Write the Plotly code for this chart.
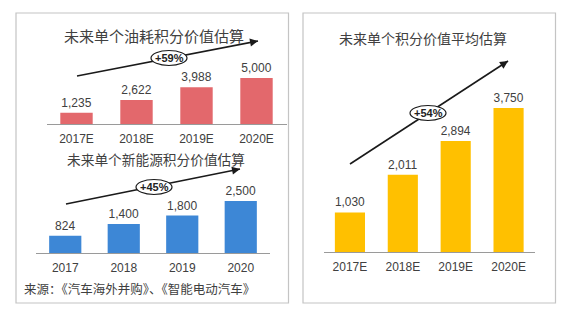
import plotly.graph_objects as go

W, H = 566, 316

# ---- data ----
fuel_years = ["2017E", "2018E", "2019E", "2020E"]
fuel_values = [1235, 2622, 3988, 5000]

nev_years = ["2017", "2018", "2019", "2020"]
nev_values = [824, 1400, 1800, 2500]

avg_years = ["2017E", "2018E", "2019E", "2020E"]
avg_values = [1030, 2011, 2894, 3750]

fuel_title = "未来单个油耗积分价值估算"
nev_title = "未来单个新能源积分价值估算"
avg_title = "未来单个积分价值平均估算"
source_text = "来源：《汽车海外并购》、《智能电动汽车》"
growth_labels = ["+59%", "+45%", "+54%"]

RED = "#E3686C"
BLUE = "#3D87D6"
GOLD = "#FFC000"
TXT = "#404040"
NUM_FONT = "Liberation Sans"
CJK_FONT = "Noto Sans CJK SC"


def fx(px):
    return px / W


def fy(py):
    return 1 - py / H


fig = go.Figure()


def add_bars(xs, ys, color, axis_idx, width):
    suffix = "" if axis_idx == 1 else str(axis_idx)
    fig.add_trace(go.Bar(
        x=xs, y=ys, marker=dict(color=color, line=dict(width=0)),
        width=width,
        text=[f"{v:,}" for v in ys], textposition="outside",
        textfont=dict(family=NUM_FONT, size=12, color=TXT),
        cliponaxis=False, showlegend=False, hoverinfo="skip",
        xaxis="x" + suffix, yaxis="y" + suffix,
    ))


add_bars(fuel_years, fuel_values, RED, 1, 0.54)
add_bars(nev_years, nev_values, BLUE, 2, 0.55)
add_bars(avg_years, avg_values, GOLD, 3, 0.57)

xcommon = dict(type="category", showline=True, linecolor="#9A9A9A", linewidth=1.2,
               ticks="", showgrid=False, zeroline=False, fixedrange=True,
               ticklabelstandoff=3,
               tickfont=dict(family=NUM_FONT, size=12, color=TXT))
ycommon = dict(visible=False, showgrid=False, zeroline=False, fixedrange=True)

fig.update_layout(
    width=W, height=H, margin=dict(l=0, r=0, t=0, b=0),
    paper_bgcolor="white", plot_bgcolor="rgba(0,0,0,0)",
    xaxis=dict(xcommon, domain=[fx(46.5), fx(286.5)], anchor="y", range=[-0.5, 3.5]),
    yaxis=dict(ycommon, domain=[fy(124), fy(70)], anchor="x", range=[0, 5870]),
    xaxis2=dict(xcommon, domain=[fx(36), fx(270)], anchor="y2", range=[-0.5, 3.5]),
    yaxis2=dict(ycommon, domain=[fy(253), fy(190)], anchor="x2", range=[0, 3029]),
    xaxis3=dict(xcommon, domain=[fx(323.5), fx(535)], anchor="y3", range=[-0.5, 3.5]),
    yaxis3=dict(ycommon, domain=[fy(252), fy(95)], anchor="x3", range=[0, 4089]),
)

shapes = []
annotations = []

# panel frames
for x0, x1 in [(16, 288.5), (303, 555.5)]:
    shapes.append(dict(type="rect", xref="paper", yref="paper",
                       x0=fx(x0), x1=fx(x1), y0=fy(303), y1=fy(13),
                       line=dict(color="#C4C4C4", width=1.2), fillcolor="rgba(0,0,0,0)",
                       layer="below"))

# titles
for txt, cx, cy, size in [(fuel_title, 153.5, 35, 15), (nev_title, 156, 159, 13.7),
                          (avg_title, 422.5, 38, 14)]:
    annotations.append(dict(text=txt, x=fx(cx), y=fy(cy), xref="paper", yref="paper",
                            showarrow=False, xanchor="center", yanchor="middle",
                            font=dict(family=CJK_FONT, size=size, color=TXT)))

annotations.append(dict(text=source_text, x=fx(22), y=fy(288), xref="paper", yref="paper",
                        showarrow=False, xanchor="left", yanchor="middle",
                        font=dict(family=CJK_FONT, size=12.5, color=TXT)))

# growth arrows with oval badges
arrows = [((77, 76), (258, 41), (169, 58)),
          ((66, 204), (240, 169), (154, 187)),
          ((350, 164), (508, 61), (428, 113))]
for (tx, ty), (hx, hy), (cx, cy) in arrows:
    shapes.append(dict(type="line", xref="paper", yref="paper",
                       x0=fx(tx), y0=fy(ty), x1=fx(hx), y1=fy(hy),
                       line=dict(color="#1A1A1A", width=1.6), layer="above"))
    # arrowhead only (short annotation along the line direction)
    dx, dy = hx - tx, hy - ty
    n = (dx * dx + dy * dy) ** 0.5
    annotations.append(dict(x=fx(hx), y=fy(hy), xref="paper", yref="paper",
                            ax=-dx / n * 6, ay=-dy / n * 6, text="", showarrow=True,
                            arrowhead=2, arrowsize=1, arrowwidth=1.6, arrowcolor="#1A1A1A"))
    shapes.append(dict(type="circle", xref="paper", yref="paper",
                       x0=fx(cx - 18), x1=fx(cx + 18), y0=fy(cy + 7.5), y1=fy(cy - 7.5),
                       line=dict(color="#1A1A1A", width=1.2), fillcolor="white",
                       layer="above"))

for lab, (_, _, (cx, cy)) in zip(growth_labels, arrows):
    annotations.append(dict(text=f"<b>{lab}</b>", x=fx(cx), y=fy(cy), xref="paper", yref="paper",
                            showarrow=False, xanchor="center", yanchor="middle",
                            font=dict(family=NUM_FONT, size=11, color="#222222")))

fig.update_layout(shapes=shapes, annotations=annotations)

fig.write_html("out.html")
